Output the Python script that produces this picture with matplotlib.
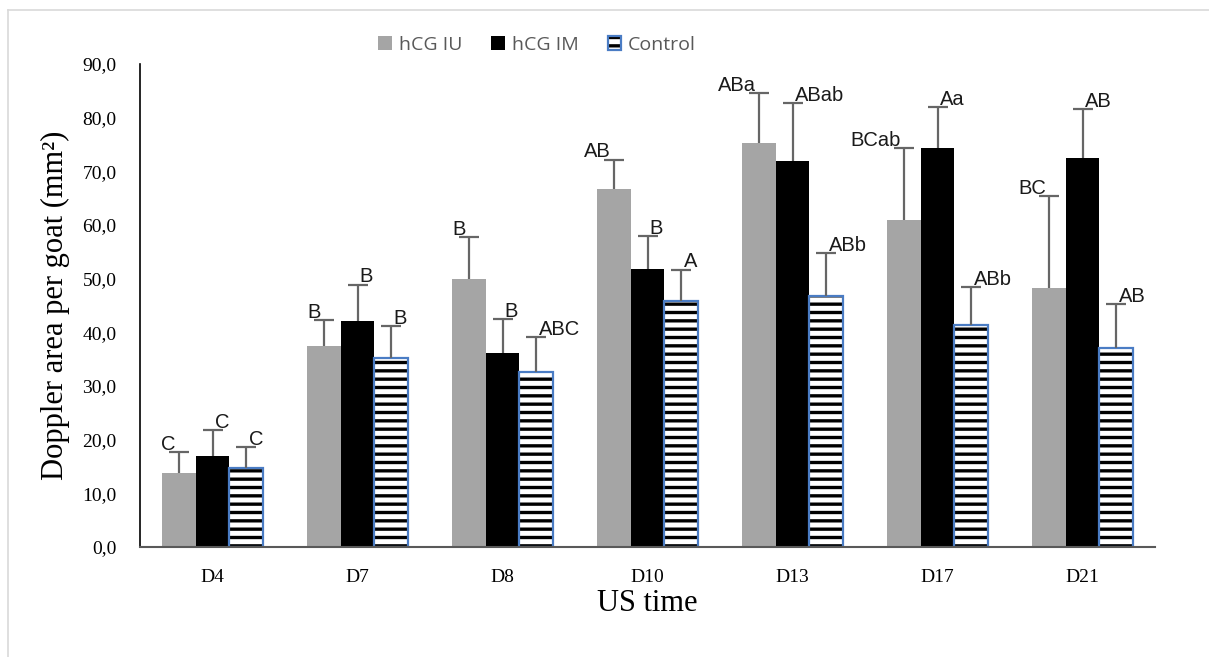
import matplotlib
matplotlib.use("Agg")
import matplotlib.pyplot as plt
import matplotlib.patches as mpatches
from matplotlib.lines import Line2D
import numpy as np

categories = ["D4", "D7", "D8", "D10", "D13", "D17", "D21"]
series_names = ["hCG IU", "hCG IM", "Control"]
iu_vals = [13.8, 37.5, 49.9, 66.8, 75.2, 60.9, 48.2]
iu_err = [3.9, 4.8, 7.8, 5.4, 9.4, 13.5, 17.2]
im_vals = [17.0, 42.1, 36.1, 51.8, 71.9, 74.3, 72.4]
im_err = [4.8, 6.8, 6.3, 6.1, 10.8, 7.6, 9.2]
ctrl_vals = [14.7, 35.2, 32.7, 45.9, 46.8, 41.4, 37.0]
ctrl_err = [3.9, 6.0, 6.4, 5.8, 7.9, 7.1, 8.3]
iu_labels = ["C", "B", "B", "AB", "ABa", "BCab", "BC"]
im_labels = ["C", "B", "B", "B", "ABab", "Aa", "AB"]
ctrl_labels = ["C", "B", "ABC", "A", "ABb", "ABb", "AB"]
yticks = [0, 10, 20, 30, 40, 50, 60, 70, 80, 90]

plt.rcParams['hatch.linewidth'] = 2.4

W, H = 1209, 657
fig = plt.figure(figsize=(W / 100, H / 100), dpi=100)
ax = fig.add_axes([140 / W, 1 - 547 / H, (1155 - 140) / W, (547 - 64) / H])

x = np.arange(len(categories))
w = 0.234
gray = "#A5A5A5"
blue = "#4A7CC4"
errc = "#666666"

ax.bar(x - w, iu_vals, w, color=gray, zorder=2)
ax.bar(x, im_vals, w, color="black", zorder=2)
ax.bar(x + w, ctrl_vals, w, facecolor="white", edgecolor="black", hatch="--", linewidth=0, zorder=2)
ax.bar(x + w, ctrl_vals, w, facecolor="none", edgecolor=blue, linewidth=1.6, zorder=3)

ekw = dict(fmt="none", ecolor=errc, elinewidth=1.6, capsize=7, capthick=1.6, zorder=4)
for off, vals, errs in [(-w, iu_vals, iu_err), (0, im_vals, im_err), (w, ctrl_vals, ctrl_err)]:
    cont = ax.errorbar(x + off, vals, yerr=[np.zeros(len(errs)), errs], **ekw)
    caps = cont[1]
    if len(caps) >= 2:
        caps[0].set_visible(False)  # hide lower caps (at bar top)

lab_font = dict(family="Liberation Sans", fontsize=14.5, color="#1a1a1a")
for i in range(len(categories)):
    ax.annotate(iu_labels[i], (x[i] - w, iu_vals[i] + iu_err[i]), xytext=(-2, 1.5),
                textcoords="offset points", ha="right", va="baseline", **lab_font)
    ax.annotate(im_labels[i], (x[i], im_vals[i] + im_err[i]), xytext=(1.5, 1.5),
                textcoords="offset points", ha="left", va="baseline", **lab_font)
    ax.annotate(ctrl_labels[i], (x[i] + w, ctrl_vals[i] + ctrl_err[i]), xytext=(1.5, 1.5),
                textcoords="offset points", ha="left", va="baseline", **lab_font)

ax.set_xlim(-0.5, len(categories) - 0.5)
ax.set_ylim(0, 90)
ax.set_yticks(yticks)
ax.set_yticklabels([f"{v:.1f}".replace(".", ",") for v in yticks],
                   family="Liberation Serif", fontsize=14)
ax.set_xticks(x)
ax.set_xticklabels(categories, family="Liberation Serif", fontsize=14)
ax.tick_params(axis="both", length=0)
ax.tick_params(axis="y", pad=17)
ax.tick_params(axis="x", pad=16)
for s in ["top", "right"]:
    ax.spines[s].set_visible(False)
ax.spines["left"].set_color("black")
ax.spines["left"].set_linewidth(1.2)
ax.spines["bottom"].set_color("#595959")
ax.spines["bottom"].set_linewidth(1.5)
ax.spines["left"].set_zorder(5)
ax.spines["bottom"].set_zorder(5)

ax.set_ylabel("Doppler area per goat (mm²)", family="Liberation Serif", fontsize=22, labelpad=9)
ax.set_xlabel("US time", family="Liberation Serif", fontsize=22, labelpad=2)

h1 = mpatches.Patch(facecolor=gray, edgecolor="none")
h2 = mpatches.Patch(facecolor="black", edgecolor="none")
h3a = mpatches.Patch(facecolor="white", edgecolor="black", hatch="--", linewidth=0)
h3b = mpatches.Patch(facecolor="none", edgecolor=blue, linewidth=1.6)
leg = fig.legend([h1, h2, (h3a, h3b)], series_names, loc="center",
                 bbox_to_anchor=(537 / W, 1 - 45 / H), ncol=3, frameon=False,
                 prop=dict(family="Open Sans", size=14), handlelength=0.7,
                 handleheight=0.7, handletextpad=0.35, columnspacing=1.5)
for t in leg.get_texts():
    t.set_color("#595959")

# outer frame (light gray) on left and top
fig.add_artist(Line2D([8 / W, 8 / W], [0, 1 - 10 / H], transform=fig.transFigure,
                      color="#D9D9D9", linewidth=1.2))
fig.add_artist(Line2D([8 / W, 1], [1 - 10 / H, 1 - 10 / H], transform=fig.transFigure,
                      color="#D9D9D9", linewidth=1.2))

fig.savefig("out.png", dpi=100)
